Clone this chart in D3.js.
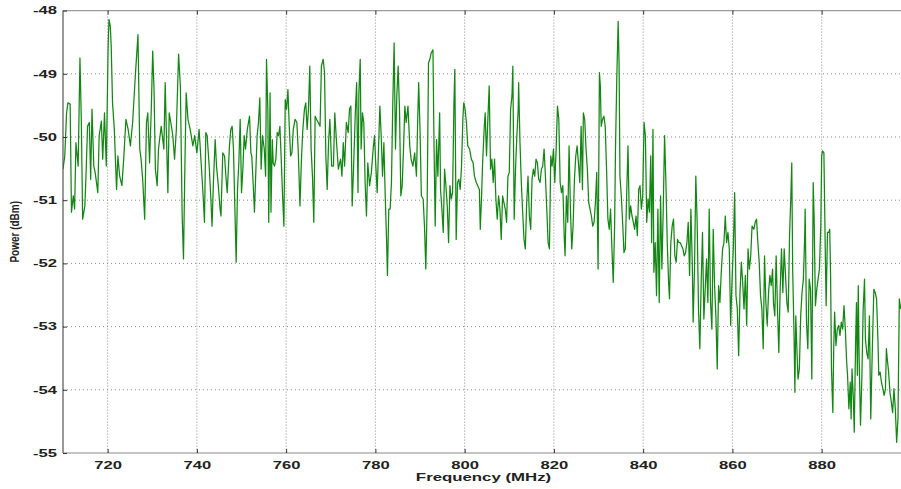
<!DOCTYPE html>
<html>
<head>
<meta charset="utf-8">
<script src="https://cdn.jsdelivr.net/npm/d3@7"></script>
<style>
html,body{margin:0;padding:0;background:#fff;}
svg{display:block;}
text{font-family:"Liberation Sans",Arial,sans-serif;fill:#222;}
</style>
</head>
<body>
<svg id="chart" width="901" height="489"></svg>
<script>
const xTicks = [720, 740, 760, 780, 800, 820, 840, 860, 880];
const yTicks = [-55, -54, -53, -52, -51, -50, -49, -48];
const xDomain = [710, 898];
const yDomain = [-55, -48];

const freqs = [
710.0,710.4,710.8,711.1,711.6,711.9,712.3,712.6,712.9,713.4,713.8,714.1,714.4,714.9,715.2,715.5,715.9,716.2,716.5,716.9,
717.2,717.8,718.1,718.6,718.9,719.3,719.7,720.1,720.3,720.6,720.8,721.1,721.5,722.0,722.3,722.7,723.2,723.6,724.1,724.6,
725.1,725.6,726.2,726.8,727.2,727.5,727.9,728.3,728.7,729.0,729.4,729.8,730.1,730.4,730.7,731.1,731.4,732.0,732.6,732.9,
733.2,733.5,733.8,734.3,734.6,735.0,735.4,735.9,736.3,736.7,737.0,737.3,737.6,738.0,738.5,739.1,739.5,740.0,740.5,
741.4,741.7,742.0,742.3,742.8,743.1,743.4,743.7,744.1,744.4,744.8,745.2,745.4,745.8,746.2,746.5,746.8,747.3,747.6,747.9,
748.2,748.5,748.8,749.1,749.4,749.7,750.0,750.3,750.6,750.9,751.3,751.8,752.1,752.3,752.6,752.9,753.2,753.5,753.8,754.1,
754.4,754.7,755.1,755.4,755.6,755.9,756.1,756.4,756.6,756.9,757.1,757.4,757.7,758.0,758.3,758.6,758.9,759.2,759.5,759.8,
760.1,760.4,760.7,761.0,761.3,761.6,762.0,762.4,762.7,763.1,763.4,763.7,764.1,764.4,764.7,765.0,765.3,765.6,765.9,766.2,
766.5,766.8,767.2,767.6,767.9,768.3,768.6,768.9,769.2,769.5,769.8,770.2,770.6,770.9,771.3,771.7,
772.0,772.2,772.5,772.8,773.1,773.5,773.9,774.2,774.5,774.8,775.1,775.5,775.8,776.1,776.3,776.6,776.8,777.1,777.4,777.7,
778.0,778.3,778.7,779.1,779.5,779.8,780.1,780.4,780.7,781.0,781.3,781.6,781.9,782.2,782.5,782.7,783.0,783.3,783.6,783.9,
784.2,784.5,784.8,785.1,785.4,785.7,786.0,786.3,786.6,786.9,787.3,787.7,788.0,788.4,788.8,789.2,789.5,789.7,790.0,790.3,
790.7,791.0,791.3,791.6,791.9,792.2,792.5,792.9,793.1,793.4,793.7,794.0,794.4,794.6,794.9,795.2,795.5,795.8,796.1,796.4,
796.7,797.0,797.3,797.6,797.8,798.1,798.4,798.7,799.0,799.3,799.6,799.8,800.1,800.4,800.7,801.1,801.5,801.9,802.2,802.6,
803.3,803.5,803.8,804.0,804.4,804.6,804.9,805.2,805.5,805.8,806.1,806.4,806.7,807.0,807.3,807.6,807.9,808.2,808.5,808.8,
809.1,809.4,809.7,810.0,810.3,810.6,810.8,811.1,811.4,811.7,812.0,812.1,812.4,812.7,813.0,813.3,813.6,813.9,814.2,814.5,
814.8,815.1,815.4,815.7,816.0,816.3,816.6,816.9,817.2,817.5,817.8,818.1,818.4,818.7,819.0,819.3,819.6,819.9,820.2,820.5,
820.8,821.1,821.4,821.7,822.0,822.3,822.5,822.8,823.1,823.4,823.7,824.0,824.3,824.6,824.9,825.2,825.5,825.8,826.1,826.4,
826.6,826.9,827.2,827.5,827.8,828.1,828.4,828.7,829.0,829.3,829.6,829.9,830.2,830.4,830.6,830.9,831.2,831.5,831.8,832.1,
832.4,832.7,833.0,833.3,833.6,
833.8,834.1,834.4,834.6,834.8,835.1,835.4,835.7,836.0,836.3,836.6,836.9,837.2,837.5,837.8,838.1,838.4,838.7,839.0,839.3,
839.6,839.9,840.2,840.5,840.8,841.1,841.4,841.7,841.9,842.2,842.4,842.7,843.0,843.3,843.6,843.9,844.2,844.5,844.8,845.1,
845.4,845.7,845.9,846.2,846.5,846.8,847.1,847.4,847.7,848.0,848.3,848.6,848.9,849.2,849.5,849.8,850.1,850.4,850.7,851.0,
851.2,851.5,851.8,852.1,852.4,852.7,853.0,853.3,853.6,853.9,854.2,854.5,854.8,855.1,855.4,855.7,856.0,856.3,856.6,856.9,
857.2,857.5,857.8,858.1,858.4,858.7,859.0,859.3,859.6,859.9,860.2,860.5,860.8,861.1,861.4,861.7,862.0,862.3,862.6,862.9,
863.2,863.5,863.8,864.1,864.4,
864.8,865.1,865.4,865.7,866.0,866.3,866.6,866.9,867.2,867.5,867.8,868.1,868.4,868.7,869.0,869.2,869.5,869.8,870.1,870.4,
870.7,871.0,871.3,871.6,871.9,872.2,872.5,872.8,873.1,873.3,873.5,873.8,874.0,874.2,874.4,874.7,875.0,875.3,875.6,875.9,
876.2,876.3,876.6,876.9,877.2,877.5,877.8,878.1,878.3,878.6,878.9,879.2,879.5,879.8,880.0,880.2,880.5,880.8,881.0,881.3,
881.6,881.8,882.0,882.2,882.5,882.7,882.9,883.2,883.5,883.8,884.1,884.4,884.7,885.0,885.3,885.6,885.8,886.1,886.4,886.6,
886.8,887.1,887.3,887.6,887.8,888.0,888.2,888.4,888.7,889.0,889.3,889.6,889.8,890.1,890.4,890.7,891.0,891.3,891.5,891.7,
892.0,892.3,892.6,892.8,893.1,893.4,893.7,894.0,894.3,894.5,894.7,895.0,895.3,895.6,895.9,896.2,896.5,896.8,897.1,897.4,
897.7
];

const powerDbm = [
-50.51,-50.30,-49.62,-49.46,-49.48,-51.19,-50.93,-51.14,-50.09,-50.46,-48.75,-49.72,-51.30,-51.09,-50.51,-49.83,-49.77,-50.67,-49.56,-50.46,
-50.56,-50.88,-49.98,-49.75,-50.35,-49.62,-50.46,-48.62,-48.14,-48.25,-48.56,-49.46,-49.88,-50.83,-50.30,-50.62,-50.77,-50.35,-49.72,-49.88,
-50.14,-49.77,-49.04,-48.38,-50.19,-50.35,-50.72,-51.30,-49.77,-49.62,-50.41,-49.51,-48.64,-49.25,-50.51,-50.77,-50.19,-49.83,-50.19,-49.14,
-50.04,-50.88,-49.62,-49.83,-49.98,-50.35,-49.88,-48.69,-49.19,-51.25,-51.93,-50.51,-49.30,-49.72,-49.88,-50.14,-49.98,-50.25,-49.88,
-50.93,-51.35,-49.93,-49.98,-50.51,-50.93,-51.41,-50.72,-50.04,-50.46,-50.77,-51.14,-51.25,-50.25,-50.30,-50.62,-50.88,-50.14,-49.88,-49.83,
-50.19,-51.09,-51.98,-50.83,-50.41,-49.72,-50.88,-50.51,-49.98,-50.19,-49.88,-49.67,-50.25,-50.30,-50.72,-51.19,-50.56,-49.98,-49.77,-49.38,
-50.51,-49.98,-50.19,-50.62,-48.77,-49.56,-51.35,-49.30,-51.19,-50.04,-50.41,-50.46,-50.35,-49.93,-49.98,-49.83,-50.35,-50.93,-51.41,-49.41,
-49.56,-49.25,-49.83,-50.30,-50.25,-49.88,-49.72,-49.77,-50.19,-51.09,-50.41,-49.93,-49.56,-49.46,-49.88,-49.56,-48.88,-50.19,-50.62,-51.35,
-49.67,-49.72,-49.77,-49.83,-48.88,-48.77,-48.98,-50.30,-50.83,-50.09,-49.72,-50.46,-50.46,-49.62,-50.09,-50.51,
-50.41,-50.35,-50.62,-50.09,-50.46,-49.77,-49.93,-49.56,-49.51,-51.09,-50.51,-49.62,-49.14,-50.88,-49.30,-48.77,-50.19,-49.62,-49.77,-50.72,
-51.25,-50.41,-50.77,-50.56,-50.19,-49.98,-50.46,-50.88,-50.19,-49.51,-49.98,-50.62,-50.09,-50.93,-51.62,-52.19,-51.14,-51.14,-50.72,-49.46,
-48.51,-50.19,-49.35,-48.88,-49.56,-50.93,-50.77,-50.19,-49.51,-49.77,-49.51,-50.14,-50.35,-50.46,-50.25,-50.62,-49.67,-49.14,-49.88,-50.93,
-50.98,-51.41,-52.09,-51.04,-48.83,-48.77,-48.67,-48.62,-49.93,-51.41,-50.04,-50.62,-49.62,-50.83,-51.14,-51.51,-50.51,-50.77,-51.09,-51.67,
-50.77,-50.98,-50.88,-49.46,-48.93,-51.62,-50.72,-50.67,-50.83,-50.46,-49.72,-49.46,-49.56,-49.77,-50.14,-50.19,-50.35,-50.41,-50.62,-50.72,
-50.83,-51.46,-50.93,-50.46,-49.83,-49.62,-50.30,-49.72,-49.19,-50.51,-50.35,-50.72,-50.35,-50.98,-51.30,-50.93,-51.14,-51.62,-50.93,-51.04,
-51.14,-51.35,-50.62,-50.56,-49.56,-49.35,-48.88,-51.30,-50.51,-49.98,-49.56,-49.14,-50.09,-50.72,-51.19,-51.62,-51.77,-51.04,-50.62,-51.25,
-51.46,-50.67,-50.51,-50.62,-50.35,-50.41,-50.67,-50.72,-50.51,-50.46,-50.19,-50.62,-51.14,-51.67,-51.77,-50.30,-50.46,-50.19,-50.72,-50.19,
-49.51,-49.72,-50.72,-50.88,-50.77,-51.56,-51.88,-50.93,-51.35,-50.14,-51.14,-51.77,-51.41,-50.67,-50.30,-50.14,-50.41,-50.72,-49.83,-50.83,
-49.62,-49.72,-50.19,-50.51,-51.04,-51.14,-51.25,-51.41,-51.35,-51.04,-50.56,-52.09,-48.98,-49.19,-49.83,-49.72,-49.67,-49.83,-50.51,-51.30,
-51.46,-51.14,-51.77,-52.30,-51.41,
-50.19,-49.04,-48.17,-48.83,-50.62,-50.93,-51.35,-51.83,-51.77,-50.93,-50.14,-51.30,-51.09,-51.25,-51.35,-51.46,-51.25,-51.56,-50.83,-50.77,
-51.14,-50.93,-49.77,-49.98,-51.35,-50.98,-51.19,-50.30,-51.67,-49.88,-52.14,-51.67,-52.51,-51.14,-52.62,-50.93,-52.09,-51.14,-49.98,-50.72,
-51.67,-52.30,-52.56,-51.67,-51.41,-51.30,-51.88,-51.98,-51.62,-51.67,-51.67,-51.72,-51.77,-51.88,-51.83,-51.67,-51.35,-52.19,-51.14,-51.98,
-52.93,-52.09,-50.62,-51.35,-52.72,-53.35,-52.30,-51.51,-52.88,-52.41,-51.93,-52.62,-51.14,-52.62,-53.04,-51.46,-52.35,-52.83,-53.67,-52.35,
-52.62,-52.14,-51.77,-51.67,-51.25,-51.67,-51.51,-51.77,-52.98,-52.30,-51.77,-50.88,-52.51,-52.72,-53.46,-52.46,-51.98,-52.30,-52.72,-52.19,
-52.98,-51.77,-52.09,-51.88,-51.41,
-51.46,-51.35,-51.30,-51.67,-51.98,-52.51,-52.72,-53.35,-51.88,-52.62,-52.98,-52.46,-52.19,-52.35,-52.09,-52.62,-52.83,-51.88,-52.72,-53.41,
-52.41,-51.77,-52.46,-51.77,-52.19,-52.62,-52.77,-51.56,-50.93,-50.41,-52.09,-53.09,-54.04,-52.83,-53.25,-53.83,-53.67,-52.83,-52.46,-52.25,
-51.56,-51.14,-52.93,-53.35,-52.25,-52.41,-53.83,-50.72,-51.25,-52.67,-52.41,-52.25,-52.09,-51.41,-50.30,-50.22,-50.25,-51.77,-52.67,-51.51,
-51.51,-51.46,-52.19,-53.67,-54.36,-53.35,-52.77,-53.30,-53.04,-52.98,-53.14,-52.93,-53.04,-52.67,-53.04,-53.56,-53.77,-54.30,-53.88,-54.46,
-53.67,-54.14,-54.67,-53.25,-52.62,-53.77,-52.35,-53.51,-54.56,-53.83,-52.72,-52.25,-53.19,-53.41,-53.51,-52.83,-54.46,-53.51,-52.93,-52.41,
-52.46,-52.56,-53.19,-53.77,-53.72,-53.88,-53.98,-54.09,-53.98,-53.35,-53.51,-53.72,-54.04,-54.19,-54.36,-53.98,-54.30,-54.83,-54.46,-52.56,
-52.72
];

const svg = d3.select("#chart");
const plotLeft = 63, plotRight = 902, plotTop = 10.6, plotBottom = 453;

const x = d3.scaleLinear().domain(xDomain).range([plotLeft, plotRight]);
const y = d3.scaleLinear().domain(yDomain).range([plotBottom, plotTop]);

// grid
const grid = svg.append("g");
grid.selectAll("line.vg").data(xTicks).enter().append("line")
  .attr("x1", d => x(d)).attr("x2", d => x(d))
  .attr("y1", plotTop).attr("y2", plotBottom)
  .attr("stroke", "#8a8a8a").attr("stroke-width", 1)
  .attr("stroke-dasharray", "1,2");
grid.selectAll("line.hg").data(yTicks.filter(d => d > -55 && d < -48)).enter().append("line")
  .attr("x1", plotLeft).attr("x2", plotRight)
  .attr("y1", d => y(d)).attr("y2", d => y(d))
  .attr("stroke", "#8a8a8a").attr("stroke-width", 1)
  .attr("stroke-dasharray", "1,3");

// line
svg.append("clipPath").attr("id", "clip").append("rect")
  .attr("x", plotLeft).attr("y", plotTop).attr("width", plotRight - plotLeft).attr("height", plotBottom - plotTop);

const pts = freqs.map((f, i) => [f, powerDbm[i]]);
const line = d3.line().x(d => x(d[0])).y(d => y(d[1]));
svg.append("path")
  .attr("clip-path", "url(#clip)")
  .attr("d", line(pts))
  .attr("fill", "none")
  .attr("stroke", "#138713")
  .attr("stroke-width", 1.25)
  .attr("stroke-linejoin", "round");

// frame
svg.append("line").attr("x1", plotLeft).attr("x2", plotRight).attr("y1", plotTop).attr("y2", plotTop)
  .attr("stroke", "#9a9a9a").attr("stroke-width", 1.2);
svg.append("line").attr("x1", plotLeft).attr("x2", plotRight).attr("y1", plotBottom).attr("y2", plotBottom)
  .attr("stroke", "#8a8a8a").attr("stroke-width", 1.2);
svg.append("line").attr("x1", plotLeft).attr("x2", plotLeft).attr("y1", plotTop).attr("y2", plotBottom)
  .attr("stroke", "#555").attr("stroke-width", 1.2);

// axes via d3
const xAxisB = d3.axisBottom(x).tickValues(xTicks).tickSize(-4).tickPadding(6).tickFormat(d3.format("d"));
const gxb = svg.append("g").attr("transform", `translate(0,${plotBottom})`).call(xAxisB);
gxb.select(".domain").remove();
gxb.selectAll(".tick line").attr("stroke", "#333");
gxb.selectAll(".tick text")
  .attr("font-size", 10.5).attr("font-weight", "bold").attr("fill", "#222")
  .attr("font-family", "Liberation Sans, Arial, sans-serif")
  .attr("transform", "scale(1.58,1)")
  .attr("dy", "0.95em");

const xAxisT = d3.axisTop(x).tickValues(xTicks).tickSize(-4).tickFormat("");
const gxt = svg.append("g").attr("transform", `translate(0,${plotTop})`).call(xAxisT);
gxt.select(".domain").remove();
gxt.selectAll(".tick line").attr("stroke", "#333");

const yAxis = d3.axisLeft(y).tickValues(yTicks).tickSize(-4).tickPadding(6).tickFormat(d => String(d));
const gy = svg.append("g").attr("transform", `translate(${plotLeft},0)`).call(yAxis);
gy.select(".domain").remove();
gy.selectAll(".tick line").attr("stroke", "#333");
gy.selectAll(".tick text")
  .attr("font-size", 10.5).attr("font-weight", "bold").attr("fill", "#222")
  .attr("font-family", "Liberation Sans, Arial, sans-serif")
  .attr("x", null)
  .attr("transform", "translate(-6,0) scale(1.58,1)");

// axis titles
svg.append("text")
  .attr("transform", `translate(${(plotLeft + 900) / 2 + 2},481) scale(1.6,1)`)
  .attr("text-anchor", "middle")
  .attr("font-size", 10.5).attr("font-weight", "bold")
  .text("Frequency (MHz)");

svg.append("text")
  .attr("transform", `translate(19,${(plotTop + plotBottom) / 2}) scale(1.3,1) rotate(-90)`)
  .attr("text-anchor", "middle")
  .attr("font-size", 10).attr("font-weight", "bold")
  .text("Power (dBm)");
</script>
</body>
</html>
